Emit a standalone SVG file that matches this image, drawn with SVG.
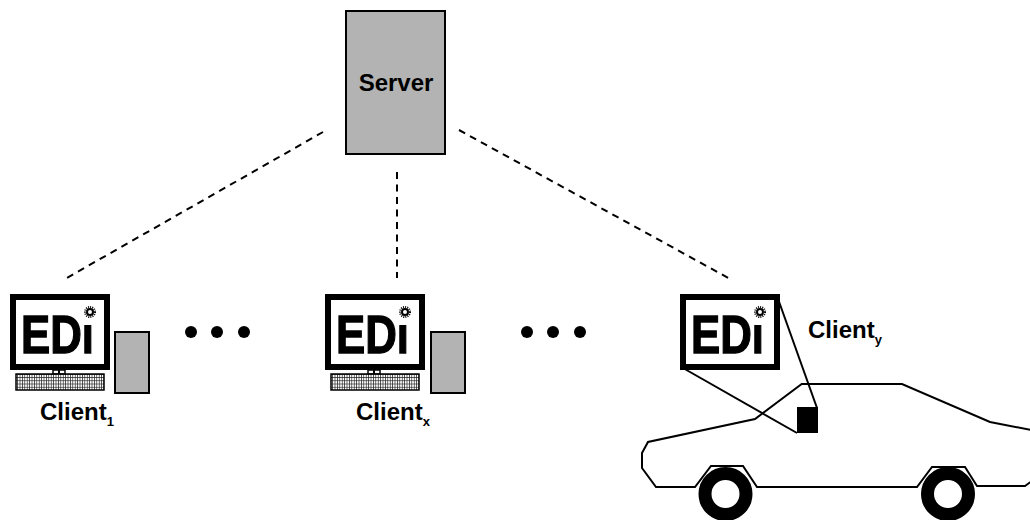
<svg xmlns="http://www.w3.org/2000/svg" width="1030" height="520" viewBox="0 0 1030 520">
  <style>
    .box { fill: #b3b3b3; stroke: #000; stroke-width: 2; }
    .frame { fill: #fff; stroke: #000; stroke-width: 6; }
    .logo { font-family: "Liberation Sans", Arial, sans-serif; font-weight: bold; font-size: 53px; fill: #000; stroke: #000; stroke-width: 1.3; }
    .label { font-family: "Liberation Sans", Arial, sans-serif; font-weight: bold; font-size: 24px; fill: #000; }
    .sub { font-size: 13px; }
    .title { font-family: "Liberation Sans", Arial, sans-serif; font-weight: bold; font-size: 24px; fill: #000; }
    .link { stroke: #000; stroke-width: 2; stroke-dasharray: 7 5.5; fill: none; }
    .line { stroke: #000; stroke-width: 2; fill: none; }
    .sun { fill: #fff; stroke: #000; stroke-width: 2; }
    .rays { fill: none; stroke: #000; stroke-width: 2; stroke-dasharray: 1 1.1; }
    .kb { fill: url(#keys); stroke: #000; stroke-width: 1.5; }
    .stand { fill: #fff; stroke: #000; stroke-width: 1.5; }
  </style>
  <defs>
    <pattern id="keys" patternUnits="userSpaceOnUse" width="2.4" height="3.2">
      <rect width="2.4" height="3.2" fill="#fff"/>
      <path d="M0 0.3H2.4M0.3 0V3.2" stroke="#222" stroke-width="0.8"/>
    </pattern>
  </defs>

  <!-- links from the server to each client -->
  <g id="connectors">
    <line class="link" x1="323" y1="132" x2="65" y2="279"/>
    <line class="link" x1="397" y1="172" x2="397" y2="278"/>
    <line class="link" x1="459" y1="130" x2="732" y2="280"/>
  </g>

  <!-- server -->
  <g id="server">
    <rect class="box" x="346" y="11" width="99" height="143"/>
    <text class="title" x="396" y="91" text-anchor="middle">Server</text>
  </g>

  <!-- client 1: screen, keyboard and tower -->
  <g id="client-1">
    <g transform="translate(10,294)">
      <rect class="frame" x="3" y="3" width="94" height="70"/>
      <text class="logo" x="11" y="59" textLength="73" lengthAdjust="spacingAndGlyphs">EDi</text>
      <rect x="73" y="12" width="15" height="19" fill="#fff"/>
      <circle class="rays" cx="80" cy="18" r="5"/>
      <circle class="sun" cx="80" cy="18" r="3"/>
      <rect class="stand" x="43" y="76" width="12" height="4"/>
      <line class="line" x1="49" y1="76" x2="49" y2="80" stroke-width="1.5"/>
      <rect class="kb" x="6" y="80" width="88" height="16"/>
    </g>
    <rect class="box" x="115" y="332" width="34" height="61"/>
    <text class="label" x="40" y="420">Client<tspan class="sub" dy="6">1</tspan></text>
  </g>

  <!-- ellipsis between clients -->
  <g id="gap-1">
    <circle cx="191" cy="332" r="6"/>
    <circle cx="217" cy="332" r="6"/>
    <circle cx="244" cy="332" r="6"/>
  </g>

  <!-- client x -->
  <g id="client-x">
    <g transform="translate(325,294)">
      <rect class="frame" x="3" y="3" width="94" height="70"/>
      <text class="logo" x="11" y="59" textLength="73" lengthAdjust="spacingAndGlyphs">EDi</text>
      <rect x="73" y="12" width="15" height="19" fill="#fff"/>
      <circle class="rays" cx="80" cy="18" r="5"/>
      <circle class="sun" cx="80" cy="18" r="3"/>
      <rect class="stand" x="43" y="76" width="12" height="4"/>
      <line class="line" x1="49" y1="76" x2="49" y2="80" stroke-width="1.5"/>
      <rect class="kb" x="6" y="80" width="88" height="16"/>
    </g>
    <rect class="box" x="431" y="332" width="34" height="61"/>
    <text class="label" x="356" y="420">Client<tspan class="sub" dy="6">x</tspan></text>
  </g>

  <g id="gap-2">
    <circle cx="527" cy="332" r="6"/>
    <circle cx="553" cy="332" r="6"/>
    <circle cx="580" cy="332" r="6"/>
  </g>

  <!-- client y: in-car unit -->
  <g id="client-y">
    <path class="line" d="M801.7 384 L902 384 L990 422 L1036 431 L1036 478 L1025 486 L977 486 L965 467 L932 467 L917 487 L757 487 L743 466 L711 466 L695 487 L656 487 L642 468 L642 453 L648 442 L755 419 Z"/>
    <line class="line" x1="683" y1="368" x2="797" y2="433"/>
    <line class="line" x1="777" y1="296" x2="817" y2="408"/>
    <rect x="797" y="407" width="21" height="26" fill="#000"/>
    <circle cx="725.5" cy="494" r="20.5" fill="#fff" stroke="#000" stroke-width="13"/>
    <circle cx="948" cy="494" r="20.5" fill="#fff" stroke="#000" stroke-width="13"/>
    <g transform="translate(680,294)">
      <rect class="frame" x="3" y="3" width="94" height="70"/>
      <text class="logo" x="11" y="59" textLength="73" lengthAdjust="spacingAndGlyphs">EDi</text>
      <rect x="73" y="12" width="15" height="19" fill="#fff"/>
      <circle class="rays" cx="80" cy="18" r="5"/>
      <circle class="sun" cx="80" cy="18" r="3"/>
    </g>
    <text class="label" x="808" y="338">Client<tspan class="sub" dy="6">y</tspan></text>
  </g>
</svg>
